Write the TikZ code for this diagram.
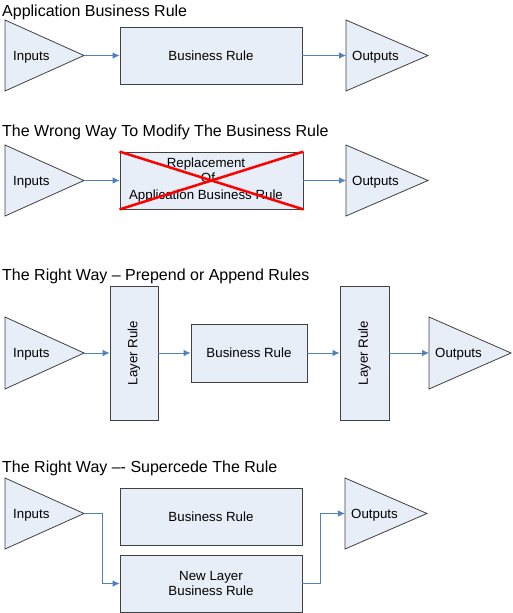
\documentclass[tikz,border=0pt]{standalone}
\usepackage{fontspec}
\setmainfont{Liberation Sans}
\usetikzlibrary{arrows.meta}
\definecolor{fillb}{HTML}{E8EEF7}
\definecolor{edge}{HTML}{404040}
\definecolor{conn}{HTML}{4F81BD}
\tikzset{
  shapebox/.style={draw=edge, fill=fillb, line width=0.8pt},
  rectnode/.style={shapebox, rectangle, inner sep=0pt, font=\fontsize{13.3}{15}\selectfont, align=center},
  lbl/.style={font=\fontsize{13.3}{15}\selectfont, anchor=base west, inner sep=0pt},
  txt/.style={font=\fontsize{13.3}{15}\selectfont, anchor=base, inner sep=0pt},
  title/.style={font=\fontsize{16}{18}\selectfont, anchor=base west, inner sep=0pt},
  link/.style={draw=conn, line width=0.8pt, -{Latex[length=7pt,width=6.5pt]}},
}
\begin{document}
\begin{tikzpicture}[x=1pt,y=-1pt]
\useasboundingbox (0,0) rectangle (512,613);
% ---- Section 1
\node[title] (t1) at (2,16.5) {Application Business Rule};
\draw[shapebox] (5,20) -- (84,55.5) -- (5,91) -- cycle;
\coordinate (in1) at (84,55.5);
\node[lbl] (in1l) at (13,60) {Inputs};
\node[rectnode, minimum width=182pt, minimum height=57pt] (br1) at (211,55.5) {Business Rule};
\draw[shapebox] (346,20) -- (428,55.5) -- (346,91) -- cycle;
\coordinate (out1) at (346,55.5);
\node[lbl] (out1l) at (352,60) {Outputs};
\draw[link] (in1) -- (br1.west);
\draw[link] (br1.east) -- (out1);
% ---- Section 2
\node[title] (t2) at (2,136.7) {The Wrong Way To Modify The Business Rule};
\draw[shapebox] (5,145) -- (84,180.5) -- (5,216) -- cycle;
\coordinate (in2) at (84,180.5);
\node[lbl] (in2l) at (13,185) {Inputs};
\node[rectnode, minimum width=183pt, minimum height=57pt] (br2) at (211.5,180.5) {};
\node[txt] (rep1) at (206,167.5) {Replacement};
\node[txt] (rep2) at (208,182.7) {Of};
\node[txt] (rep3) at (206,199) {Application Business Rule};
\draw[red, line width=2.5pt] (br2.north west) -- (br2.south east);
\draw[red, line width=2.5pt] (br2.south west) -- (br2.north east);
\draw[shapebox] (346,145) -- (428,180.5) -- (346,216) -- cycle;
\coordinate (out2) at (346,180.5);
\node[lbl] (out2l) at (352,185) {Outputs};
\draw[link] (in2) -- (br2.west);
\draw[link] (br2.east) -- (out2);
% ---- Section 3
\node[title] (t3) at (2,280.7) {The Right Way -- Prepend or Append Rules};
\draw[shapebox] (5,317) -- (84,353) -- (5,389) -- cycle;
\coordinate (in3) at (84,353);
\node[lbl] (in3l) at (13,357.5) {Inputs};
\node[rectnode, minimum width=48pt, minimum height=134pt] (lr1) at (134,353) {};
\node[font=\fontsize{13.3}{15}\selectfont, rotate=90, inner sep=0pt] (lr1l) at (134,353) {Layer Rule};
\node[rectnode, minimum width=116pt, minimum height=58pt] (br3) at (249,353) {Business Rule};
\node[rectnode, minimum width=49pt, minimum height=134pt] (lr2) at (364.5,353) {};
\node[font=\fontsize{13.3}{15}\selectfont, rotate=90, inner sep=0pt] (lr2l) at (364.5,353) {Layer Rule};
\draw[shapebox] (429,317) -- (511,353) -- (429,389) -- cycle;
\coordinate (out3) at (429,353);
\node[lbl] (out3l) at (435,357.5) {Outputs};
\draw[link] (in3) -- (lr1.west);
\draw[link] (lr1.east) -- (br3.west);
\draw[link] (br3.east) -- (lr2.west);
\draw[link] (lr2.east) -- (out3);
% ---- Section 4
\node[title] (t4) at (2,472.7) {The Right Way --{}- Supercede The Rule};
\draw[shapebox] (5,478) -- (84,513.5) -- (5,549) -- cycle;
\coordinate (in4) at (84,513.5);
\node[lbl] (in4l) at (13,518) {Inputs};
\node[rectnode, minimum width=182pt, minimum height=57pt] (br4) at (211,516.5) {Business Rule};
\node[rectnode, minimum width=182pt, minimum height=57pt] (nl4) at (211,583.5) {New Layer\\Business Rule};
\draw[shapebox] (345,478) -- (427,513.5) -- (345,549) -- cycle;
\coordinate (out4) at (345,513.5);
\node[lbl] (out4l) at (351,518) {Outputs};
\draw[link] (in4) -- (102,513.5) |- (nl4.west);
\draw[link] (nl4.east) -- (320,583.5) |- (out4);
\end{tikzpicture}
\end{document}
